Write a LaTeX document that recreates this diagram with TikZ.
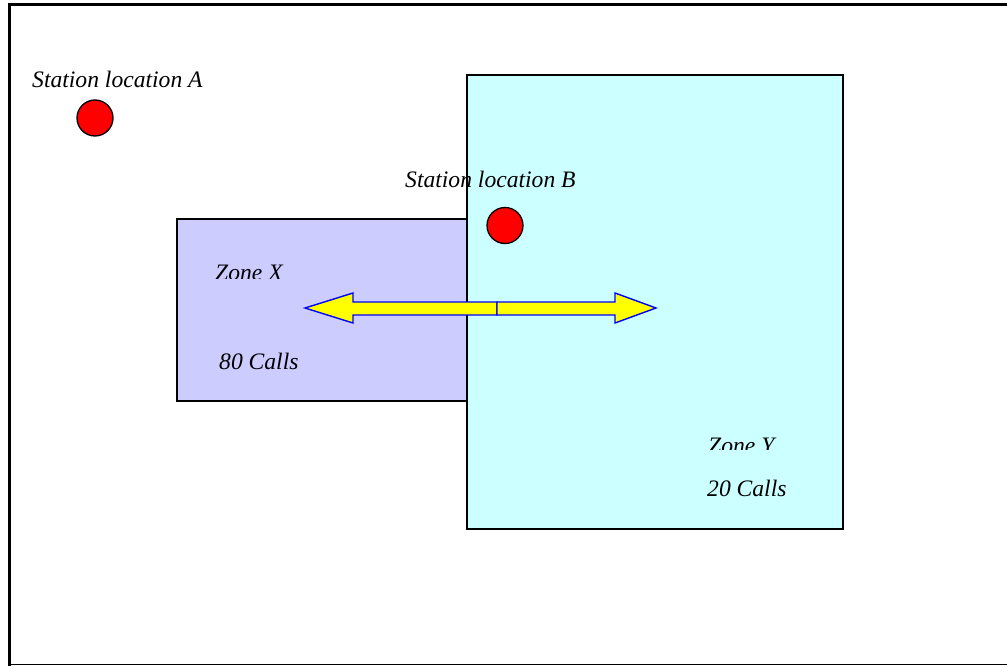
\documentclass[tikz,border=0pt]{standalone}
\usepackage{fontspec}
\setmainfont{Liberation Serif}
\definecolor{zonex}{HTML}{CCCCFF}
\definecolor{zoney}{HTML}{CCFFFF}
\definecolor{stred}{HTML}{FF0000}
\definecolor{aryel}{HTML}{FFFF00}
\definecolor{arblue}{HTML}{0000FF}
\tikzset{
  lbl/.style={anchor=base west, inner sep=0pt, font=\fontsize{23.6}{28}\selectfont\itshape},
  station/.style={circle, draw=black, line width=1.3pt, fill=stred, minimum size=36pt, inner sep=0pt},
  zonebox/.style={draw=black, line width=1.4pt},
  arrowpart/.style={draw=arblue, line width=1.4pt, fill=aryel, line join=miter}
}
\begin{document}
\begin{tikzpicture}[x=1pt,y=-1pt]
\useasboundingbox (0,0) rectangle (1007,666);
\fill[white] (0,0) rectangle (1007,666);
% frame
\draw[line width=3pt] (9,666) -- (9,4.5) -- (1007,4.5);
\draw[line width=1.6pt] (9,664.5) -- (1007,664.5);
% zones
\draw[zonebox, fill=zoney] (467,75) rectangle (843,529);
\draw[zonebox, fill=zonex] (177,219) rectangle (467,401);
% labels
\node[lbl] (stA) at (32,87.5) {Station location A};
\node[lbl] (stB) at (405,188) {Station location B};
\begin{scope}
\clip (177,200) rectangle (467,278.5);
\node[lbl] (zX) at (215,280) {Zone X};
\end{scope}
\node[lbl] (cX) at (219,369) {80 Calls};
\begin{scope}
\clip (690,420) rectangle (843,449.5);
\node[lbl] (zY) at (708,453) {Zone Y};
\end{scope}
\node[lbl] (cY) at (707,496) {20 Calls};
% stations
\node[station] (A) at (95,118) {};
\node[station] (B) at (505,225.5) {};
% double arrow
\draw[arrowpart] (497,302) -- (353,302) -- (353,293) -- (305,308) -- (353,323) -- (353,315) -- (497,315) -- cycle;
\draw[arrowpart] (497,302) -- (615,302) -- (615,293) -- (656,308) -- (615,323) -- (615,315) -- (497,315) -- cycle;
\end{tikzpicture}
\end{document}
